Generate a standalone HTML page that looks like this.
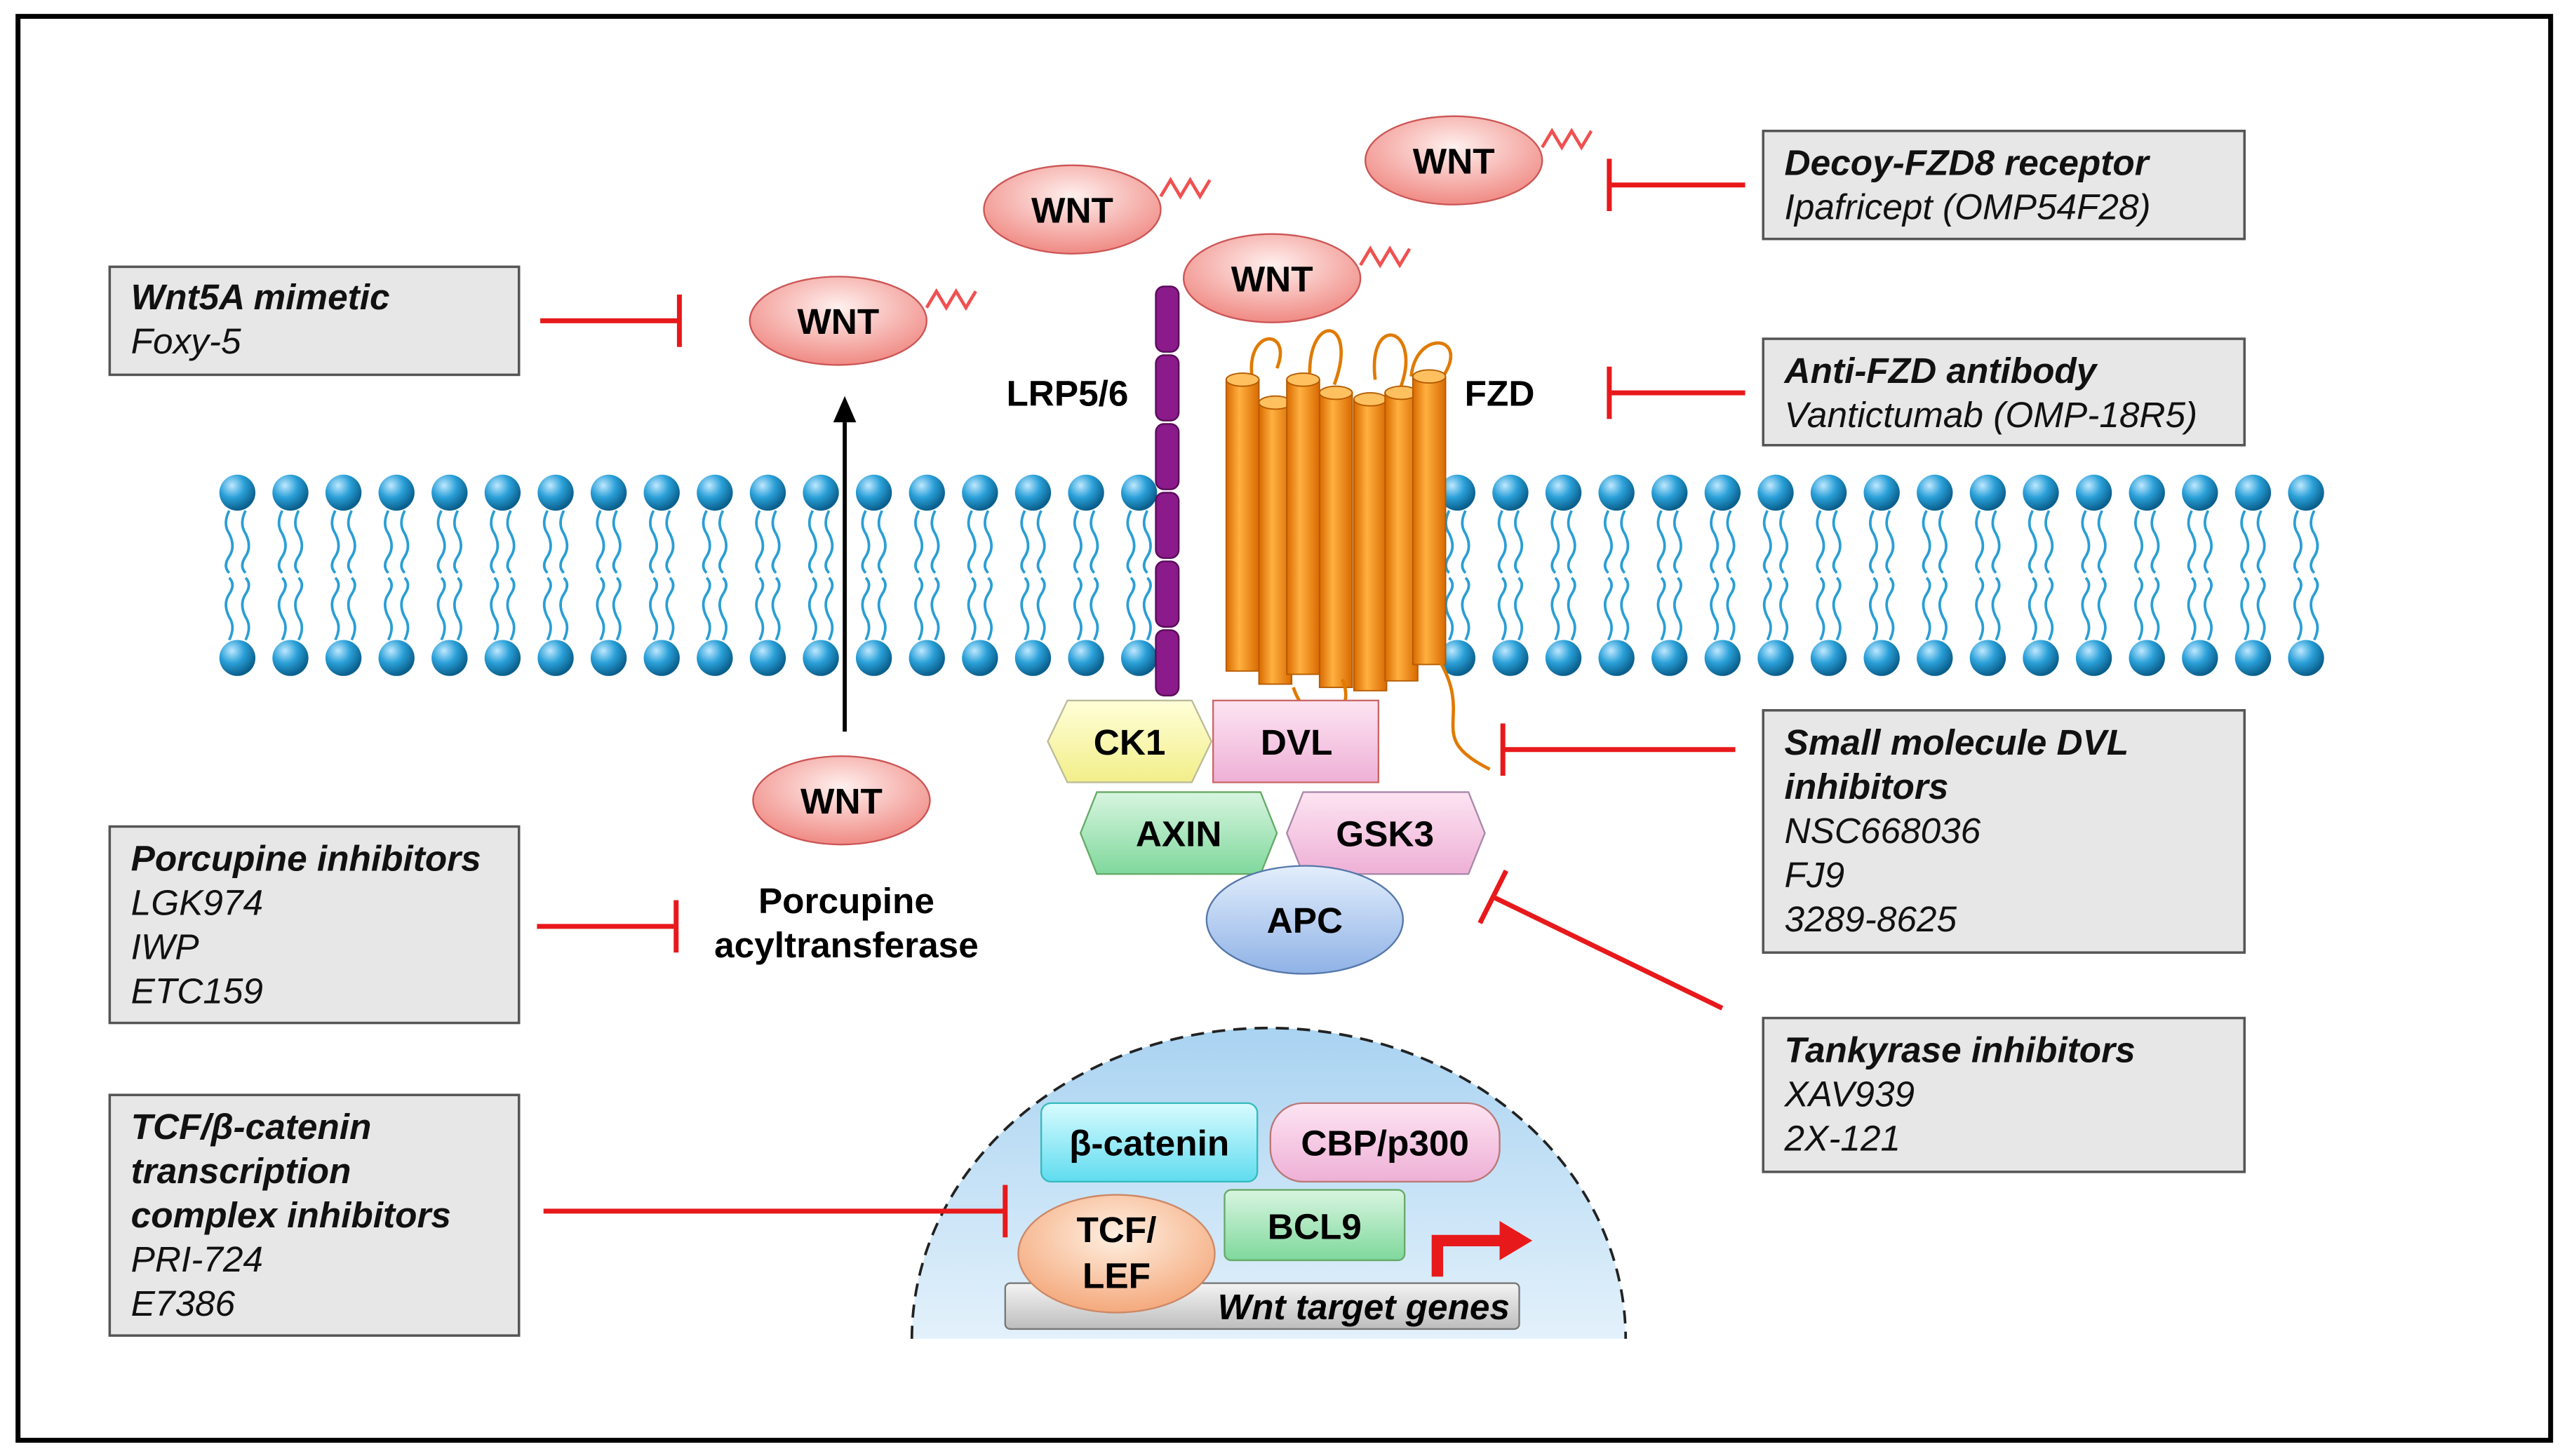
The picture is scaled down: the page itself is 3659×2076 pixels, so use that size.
<!DOCTYPE html>
<html><head><meta charset="utf-8"><style>
html,body{margin:0;padding:0;background:#fff;}
svg{display:block;}
text{font-family:"Liberation Sans",Arial,sans-serif;}
.b{font-weight:bold;}
.bi{font-weight:bold;font-style:italic;}
.i{font-style:italic;}
</style></head><body>
<svg width="3659" height="2076" viewBox="0 0 1568 889.6" preserveAspectRatio="none" xmlns="http://www.w3.org/2000/svg">
<defs>
<radialGradient id="head" cx="35%" cy="30%" r="70%"><stop offset="0" stop-color="#bfe8ff"/><stop offset="0.5" stop-color="#2aa0d8"/><stop offset="1" stop-color="#0a5f8c"/></radialGradient>
<radialGradient id="wnt" cx="50%" cy="35%" r="65%"><stop offset="0" stop-color="#fff0ee"/><stop offset="1" stop-color="#f08a84"/></radialGradient>
<linearGradient id="org" x1="0" x2="1"><stop offset="0" stop-color="#d96a00"/><stop offset="0.4" stop-color="#ffb040"/><stop offset="1" stop-color="#d96a00"/></linearGradient>
<linearGradient id="nuc" x1="0" y1="0" x2="0" y2="1"><stop offset="0" stop-color="#a9d3f1"/><stop offset="1" stop-color="#e3f1fb"/></linearGradient>
<linearGradient id="yel" x1="0" y1="0" x2="0" y2="1"><stop offset="0" stop-color="#ffffd8"/><stop offset="1" stop-color="#f2ee8a"/></linearGradient>
<linearGradient id="pk" x1="0" y1="0" x2="0" y2="1"><stop offset="0" stop-color="#fde4f2"/><stop offset="1" stop-color="#eeb0d6"/></linearGradient>
<linearGradient id="gr" x1="0" y1="0" x2="0" y2="1"><stop offset="0" stop-color="#d8f5e0"/><stop offset="1" stop-color="#7fd89c"/></linearGradient>
<linearGradient id="bl" x1="0" y1="0" x2="0" y2="1"><stop offset="0" stop-color="#e3eefc"/><stop offset="1" stop-color="#8fb2e6"/></linearGradient>
<linearGradient id="cy" x1="0" y1="0" x2="0" y2="1"><stop offset="0" stop-color="#d8fbff"/><stop offset="1" stop-color="#5fdcef"/></linearGradient>
<linearGradient id="gry" x1="0" y1="0" x2="0" y2="1"><stop offset="0" stop-color="#f4f4f4"/><stop offset="1" stop-color="#bdbdbd"/></linearGradient>
<radialGradient id="tcf" cx="50%" cy="35%" r="65%"><stop offset="0" stop-color="#fff0e2"/><stop offset="1" stop-color="#f4a97c"/></radialGradient>
</defs>
<rect x="11" y="10" width="1547" height="870" fill="#fff" stroke="#000" stroke-width="3"/>

<!-- nucleus background -->
<path d="M557 818 A218 190 0 0 1 993 818 Z" fill="url(#nuc)"/>
<path d="M557 818 A218 190 0 0 1 993 818" fill="none" stroke="#222" stroke-width="1.6" stroke-dasharray="8 5"/>

<g id="membrane"></g>

<!-- boxes -->
<g fill="#e7e7e7" stroke="#555" stroke-width="1.5">
<rect x="67" y="163" width="250" height="66"/>
<rect x="1077" y="80" width="294" height="66"/>
<rect x="1077" y="207" width="294" height="65"/>
<rect x="1077" y="434" width="294" height="148"/>
<rect x="67" y="505" width="250" height="120"/>
<rect x="1077" y="622" width="294" height="94"/>
<rect x="67" y="669" width="250" height="147"/>
</g>
<g font-size="22" fill="#111">
<text x="80" y="189" class="bi">Wnt5A mimetic</text><text x="80" y="216" class="i">Foxy-5</text>
<text x="1090" y="107" class="bi">Decoy-FZD8 receptor</text><text x="1090" y="134" class="i">Ipafricept (OMP54F28)</text>
<text x="1090" y="234" class="bi">Anti-FZD antibody</text><text x="1090" y="261" class="i">Vantictumab (OMP-18R5)</text>
<text x="1090" y="461" class="bi">Small molecule DVL</text><text x="1090" y="488" class="bi">inhibitors</text>
<text x="1090" y="515" class="i">NSC668036</text><text x="1090" y="542" class="i">FJ9</text><text x="1090" y="569" class="i">3289-8625</text>
<text x="80" y="532" class="bi">Porcupine inhibitors</text><text x="80" y="559" class="i">LGK974</text><text x="80" y="586" class="i">IWP</text><text x="80" y="613" class="i">ETC159</text>
<text x="1090" y="649" class="bi">Tankyrase inhibitors</text><text x="1090" y="676" class="i">XAV939</text><text x="1090" y="703" class="i">2X-121</text>
<text x="80" y="696" class="bi">TCF/β-catenin</text><text x="80" y="723" class="bi">transcription</text><text x="80" y="750" class="bi">complex inhibitors</text>
<text x="80" y="777" class="i">PRI-724</text><text x="80" y="804" class="i">E7386</text>
</g>

<!-- inhibitor lines -->
<g stroke="#e8191b" stroke-width="3" fill="none">
<path d="M330 196H415M415 180V212"/>
<path d="M983 113H1066M983 97V129"/>
<path d="M983 240H1066M983 224V256"/>
<path d="M918 458H1060M918 442V474"/>
<path d="M328 566H413M413 550V582"/>
<path d="M1052 616L912 548M904 564L920 532"/>
<path d="M332 740H614M614 724V756"/>
</g>

<!-- nucleus contents -->
<rect x="614" y="784" width="314" height="28" rx="3" fill="url(#gry)" stroke="#777"/>
<text x="833" y="806" font-size="22" class="bi" text-anchor="middle">Wnt target genes</text>
<path d="M878 780V758H918" stroke="#e8191b" stroke-width="7" fill="none"/>
<path d="M916 746L936 758L916 770Z" fill="#e8191b"/>
<rect x="636" y="674" width="132" height="48" rx="6" fill="url(#cy)" stroke="#3bb"/>
<text x="702" y="706" font-size="22" class="b" text-anchor="middle">β-catenin</text>
<rect x="776" y="674" width="140" height="48" rx="20" fill="url(#pk)" stroke="#b77"/>
<text x="846" y="706" font-size="22" class="b" text-anchor="middle">CBP/p300</text>
<rect x="748" y="727" width="110" height="43" rx="4" fill="url(#gr)" stroke="#6a6"/>
<text x="803" y="757" font-size="22" class="b" text-anchor="middle">BCL9</text>
<ellipse cx="682" cy="766" rx="60" ry="36" fill="url(#tcf)" stroke="#c86"/>
<text x="682" y="759" font-size="22" class="b" text-anchor="middle">TCF/</text>
<text x="682" y="787" font-size="22" class="b" text-anchor="middle">LEF</text>

<!-- arrow -->
<path d="M516 447V258" stroke="#000" stroke-width="2.5"/>
<path d="M509 258L516 242L523 258Z" fill="#000"/>
<text x="517" y="558" font-size="22" class="b" text-anchor="middle">Porcupine</text>
<text x="517" y="585" font-size="22" class="b" text-anchor="middle">acyltransferase</text>

<!-- WNTs -->
<g stroke="#c55" stroke-width="1">
<ellipse cx="512" cy="196" rx="54" ry="27" fill="url(#wnt)"/>
<ellipse cx="655" cy="128" rx="54" ry="27" fill="url(#wnt)"/>
<ellipse cx="888" cy="98" rx="54" ry="27" fill="url(#wnt)"/>
<ellipse cx="514" cy="489" rx="54" ry="27" fill="url(#wnt)"/>
</g>
<g stroke="#f05050" stroke-width="2" fill="none">
<path d="M566 188l6-10l6 10l6-10l6 10l6-10"/>
<path d="M709 120l6-10l6 10l6-10l6 10l6-10"/>
<path d="M942 90l6-10l6 10l6-10l6 10l6-10"/>
<path d="M831 162l6-10l6 10l6-10l6 10l6-10"/>
</g>
<g font-size="22" text-anchor="middle">
<text x="512" y="204" class="b">WNT</text><text x="655" y="136" class="b">WNT</text>
<text x="888" y="106" class="b">WNT</text><text x="514" y="497" class="b">WNT</text>
</g>

<g id="top"></g>

<!-- FZD loops -->
<g stroke="#e07a00" stroke-width="2" fill="none">
<path d="M790 420C800 450 830 440 820 415M880 405C900 440 870 450 910 470"/>
</g>
<text x="652" y="248" font-size="22" class="b" text-anchor="middle">LRP5/6</text>
<text x="916" y="248" font-size="22" class="b" text-anchor="middle">FZD</text>

<!-- CK1 etc -->
<polygon points="652,428 728,428 740,453 728,478 652,478 640,453" fill="url(#yel)" stroke="#bb9"/>
<text x="690" y="461" font-size="22" class="b" text-anchor="middle">CK1</text>
<rect x="741" y="428" width="101" height="50" fill="url(#pk)" stroke="#c66"/>
<text x="792" y="461" font-size="22" class="b" text-anchor="middle">DVL</text>
<polygon points="670,484 770,484 780,509 770,534 670,534 660,509" fill="url(#gr)" stroke="#6a6"/>
<text x="720" y="517" font-size="22" class="b" text-anchor="middle">AXIN</text>
<polygon points="796,484 897,484 907,509 897,534 796,534 786,509" fill="url(#pk)" stroke="#a8a"/>
<text x="846" y="517" font-size="22" class="b" text-anchor="middle">GSK3</text>
<ellipse cx="797" cy="562" rx="60" ry="33" fill="url(#bl)" stroke="#57a"/>
<text x="797" y="570" font-size="22" class="b" text-anchor="middle">APC</text>
</svg>
<script>
(function(){
var ns="http://www.w3.org/2000/svg";
var mem=document.getElementById('membrane');
var top=document.getElementById('top');
function el(t,a){var e=document.createElementNS(ns,t);for(var k in a)e.setAttribute(k,a[k]);return e;}
var g=el('g',{});
for(var i=0;i<40;i++){
 var x=145+i*32.4;
 if(x>705&&x<735) continue;
 if(x>748&&x<890) continue;
 [-5,5].forEach(function(o){
  var xx=x+o;
  g.appendChild(el('path',{d:'M'+xx+' 312 q-4 8 0 14 q4 8 0 14 q-4 6 0 10',stroke:'#2a9ed4','stroke-width':'1.6',fill:'none'}));
  g.appendChild(el('path',{d:'M'+xx+' 391 q4 -8 0 -14 q-4 -8 0 -14 q4 -6 0 -10',stroke:'#2a9ed4','stroke-width':'1.6',fill:'none'}));
 });
 g.appendChild(el('circle',{cx:x,cy:301,r:11,fill:'url(#head)'}));
 g.appendChild(el('circle',{cx:x,cy:402,r:11,fill:'url(#head)'}));
}
mem.appendChild(g);
var lrp=el('g',{});
for(var j=0;j<6;j++){lrp.appendChild(el('rect',{x:706,y:175+j*42,width:14,height:40,rx:5,fill:'#8b1a8b',stroke:'#5a0a5a'}));}
top.appendChild(lrp);
var loops=el('path',{d:'M765 232C760 200 790 200 780 225M800 228C800 190 830 195 815 235M840 232C835 190 870 200 855 238M862 230C865 200 900 205 880 232',stroke:'#e07a00','stroke-width':'2',fill:'none'});
top.appendChild(loops);
var cyl=[[758,232,410],[778,246,418],[795,232,412],[815,240,420],[836,244,422],[855,240,416],[872,230,406]];
var f=el('g',{});
cyl.forEach(function(c){
 f.appendChild(el('rect',{x:c[0]-9,y:c[1],width:20,height:c[2]-c[1],fill:'url(#org)',stroke:'#b55a00','stroke-width':'0.8'}));
 f.appendChild(el('ellipse',{cx:c[0]+1,cy:c[1],rx:10,ry:4,fill:'#ffc060',stroke:'#b55a00','stroke-width':'0.8'}));
});
top.appendChild(f);
var w=el('ellipse',{cx:777,cy:170,rx:54,ry:27,fill:'url(#wnt)',stroke:'#c55'});
top.appendChild(w);
var t=el('text',{x:777,y:178,'font-size':22,'text-anchor':'middle','class':'b'});t.textContent='WNT';top.appendChild(t);
})();
</script>
</body></html>
